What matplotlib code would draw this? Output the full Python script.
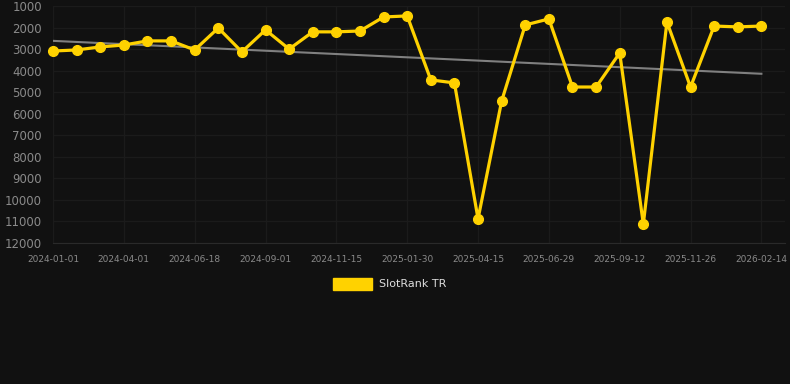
import numpy as np
import matplotlib.pyplot as plt
import matplotlib.patches as pat

# data (rank per date; lower is better)
dates = ['2024-01-01', '', '', '2024-04-01', '', '', '2024-06-18', '', '',
         '2024-09-01', '', '', '2024-11-15', '', '', '2025-01-30', '', '',
         '2025-04-15', '', '', '2025-06-29', '', '', '2025-09-12', '', '',
         '2025-11-26', '', '', '2026-02-14']
ranks = [3090, 3040, 2900, 2810, 2620, 2620, 3040, 2020, 3130, 2110, 3000,
         2200, 2200, 2160, 1510, 1460, 4430, 4570, 10880, 5410, 1880, 1600,
         4760, 4760, 3180, 11120, 1740, 4760, 1930, 1970, 1930]
yticks = [1000, 2000, 3000, 4000, 5000, 6000, 7000, 8000, 9000, 10000, 11000, 12000]
series_name = 'SlotRank TR'

# style
bg_color = '#111111'
grid_color = '#1b1b1b'
line_color = '#FFD200'
trend_color = '#808080'
tick_color = '#8a8a8a'

fig = plt.figure(figsize=(7.9, 3.84), dpi=100)
fig.patch.set_facecolor(bg_color)
ax = fig.add_axes([53/790, 1-243/384, 732/790, 237/384])
ax.set_facecolor(bg_color)

x = np.arange(len(ranks))
# trend line (linear fit)
k, b = np.polyfit(x, ranks, 1)
ax.plot(x, k*x + b, color=trend_color, lw=1.5, zorder=2)
ax.plot(x, ranks, color=line_color, lw=2.3, marker='o', ms=7,
        zorder=3, clip_on=False)

ax.set_xlim(0, 31)
ax.set_ylim(12000, 1000)
ax.set_yticks(yticks)
ax.set_yticklabels([str(v) for v in yticks], fontsize=8.5, color=tick_color)
tick_pos = [i for i, d in enumerate(dates) if d]
ax.set_xticks(tick_pos)
ax.set_xticklabels([dates[i] for i in tick_pos], fontsize=6.5, color=tick_color)
ax.tick_params(axis='y', length=0, pad=8)
ax.tick_params(axis='x', length=0, pad=9)
ax.grid(True, color=grid_color, lw=1)
for s in ['top', 'right', 'left']:
    ax.spines[s].set_visible(False)
ax.spines['bottom'].set_color('#2a2a2a')

# legend
fig.patches.append(pat.Rectangle((333/790, 1-290/384), 39/790, 12/384,
                                 transform=fig.transFigure, color=line_color))
fig.text(379/790, 1-284/384, series_name, fontsize=8, color='#dddddd',
         va='center', ha='left')

plt.savefig('out.png', dpi=100, facecolor=bg_color)
